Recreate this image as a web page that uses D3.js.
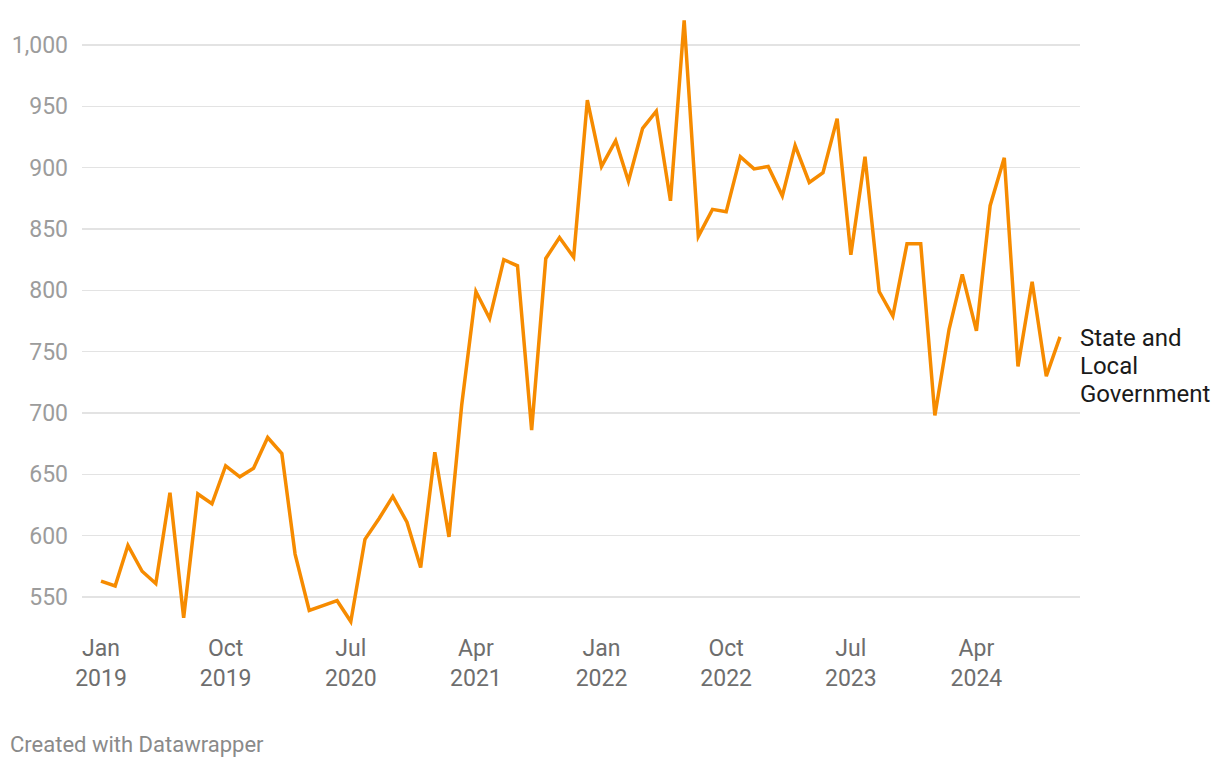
<!DOCTYPE html>
<html>
<head>
<meta charset="utf-8">
<script src="https://cdn.jsdelivr.net/npm/d3@7"></script>
<style>
  html, body { margin: 0; padding: 0; background: #fff; }
  svg { display: block; font-family: Roboto, "Noto Sans", sans-serif; }
</style>
</head>
<body>
<svg id="chart" width="1220" height="768"></svg>
<script>
// ---- Data ----
const startMonth = "2019-01";
const endMonth = "2024-10";
const values = [
  563, 559, 592, 571, 561, 635, 533, 634, 626, 657, 648, 655,
  680, 667, 585, 539, 543, 547, 530, 597, 614, 632, 611, 574,
  668, 599, 707, 799, 777, 825, 820, 686, 826, 843, 827, 955,
  901, 922, 889, 932, 946, 873, 1020, 844, 866, 864, 909, 899,
  901, 877, 918, 888, 896, 940, 829, 909, 799, 779, 838, 838,
  698, 768, 813, 767, 869, 908, 738, 807, 730, 762
];
const yTicks = [550, 600, 650, 700, 750, 800, 850, 900, 950, 1000];
const xTickMonths = ["2019-01", "2019-10", "2020-07", "2021-04", "2022-01", "2022-10", "2023-07", "2024-04"];
const seriesLabel = ["State and", "Local", "Government"];
const footer = "Created with Datawrapper";

// ---- Build ----
const parse = d3.timeParse("%Y-%m");
const months = d3.timeMonth.range(parse(startMonth), d3.timeMonth.offset(parse(endMonth), 1));
const data = months.map((m, i) => ({ date: m, value: values[i] }));

const svg = d3.select("#chart");

const x = d3.scaleTime()
  .domain([parse(startMonth), parse(endMonth)])
  .range([101, 1060]);
const y = d3.scaleLinear()
  .domain([550, 1000])
  .range([597, 45]);

const gridLeft = 82, gridRight = 1080;

// Grid lines + y labels
const yAxis = svg.append("g");
yAxis.selectAll("line")
  .data(yTicks)
  .join("line")
  .attr("x1", gridLeft).attr("x2", gridRight)
  .attr("y1", d => y(d)).attr("y2", d => y(d))
  .attr("stroke", "#e3e3e3")
  .attr("stroke-width", 1.2)
  .attr("shape-rendering", "crispEdges");
yAxis.selectAll("text")
  .data(yTicks)
  .join("text")
  .attr("x", 68)
  .attr("y", d => y(d))
  .attr("dy", "0.35em")
  .attr("text-anchor", "end")
  .attr("fill", "#9c9c9c")
  .attr("font-size", 23)
  .text(d => d3.format(",")(d));

// X labels
const fmtMon = d3.timeFormat("%b"), fmtYear = d3.timeFormat("%Y");
const xAxis = svg.append("g");
const xt = xAxis.selectAll("text")
  .data(xTickMonths.map(parse))
  .join("text")
  .attr("text-anchor", "middle")
  .attr("fill", "#6e6e6e")
  .attr("font-size", 23);
xt.append("tspan").attr("x", d => x(d)).attr("y", 656).text(d => fmtMon(d));
xt.append("tspan").attr("x", d => x(d)).attr("y", 686).text(d => fmtYear(d));

// Line
const line = d3.line()
  .x(d => x(d.date))
  .y(d => y(d.value));
svg.append("path")
  .datum(data)
  .attr("d", line)
  .attr("fill", "none")
  .attr("stroke", "#f68b00")
  .attr("stroke-width", 3.5)
  .attr("stroke-linejoin", "miter")
  .attr("stroke-linecap", "butt");

// Series label
svg.append("g").selectAll("text")
  .data(seriesLabel)
  .join("text")
  .attr("x", 1080)
  .attr("y", (d, i) => 346 + i * 28)
  .attr("fill", "#1a1a1a")
  .attr("font-size", 24)
  .text(d => d);

// Footer
svg.append("text")
  .attr("x", 10)
  .attr("y", 752)
  .attr("fill", "#8a8a8a")
  .attr("font-size", 22)
  .text(footer);
</script>
</body>
</html>
